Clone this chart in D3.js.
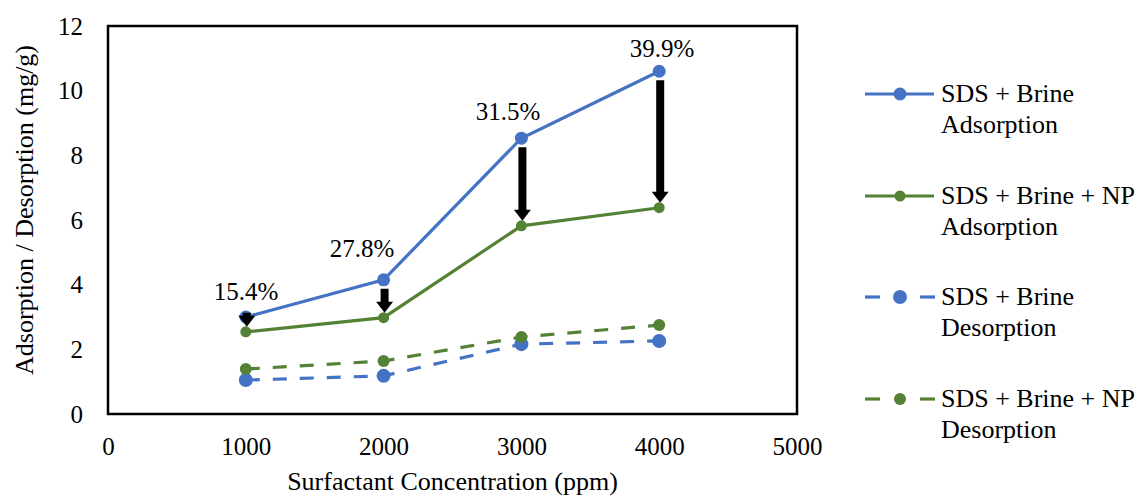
<!DOCTYPE html>
<html><head><meta charset="utf-8">
<script src="https://cdn.jsdelivr.net/npm/d3@7"></script>
<style>body{margin:0;background:#fff}svg{display:block}svg text{font-family:"Times New Roman","Liberation Serif",Times,serif;fill:#000}</style>
</head><body><svg id="c" width="1142" height="497"></svg>
<script>
const concentrations = [1000, 2000, 3000, 4000];
const sdsBrineAds = [3.0, 4.15, 8.53, 10.6];
const sdsBrineNpAds = [2.54, 2.98, 5.82, 6.38];
const sdsBrineDes = [1.05, 1.18, 2.16, 2.26];
const sdsBrineNpDes = [1.39, 1.64, 2.38, 2.75];
const reductionLabels = ["15.4%", "27.8%", "31.5%", "39.9%"];
const xTicks = [0, 1000, 2000, 3000, 4000, 5000];
const yTicks = [0, 2, 4, 6, 8, 10, 12];
const seriesNames = [["SDS + Brine", "Adsorption"], ["SDS + Brine + NP", "Adsorption"], ["SDS + Brine", "Desorption"], ["SDS + Brine + NP", "Desorption"]];

const blue = "#4472C4", green = "#548235";
const series = [
  {vals: sdsBrineAds, color: blue, dash: null, r: 6.5},
  {vals: sdsBrineNpAds, color: green, dash: null, r: 5.5},
  {vals: sdsBrineDes, color: blue, dash: "14,13", r: 7},
  {vals: sdsBrineNpDes, color: green, dash: "14,13", r: 6}
];
const FONT = "'Times New Roman','Liberation Serif',serif";

const svg = d3.select("#c");
const L = 108, R = 797, T = 26, B = 414;
const x = d3.scaleLinear().domain([0, 5000]).range([L, R]);
const y = d3.scaleLinear().domain([0, 12]).range([B, T]);

// frame
svg.append("rect").attr("x",L).attr("y",T).attr("width",R-L).attr("height",B-T).attr("fill","none").attr("stroke","#000").attr("stroke-width",2.5);

const yAxis = d3.axisLeft(y).tickValues(yTicks).tickSize(0).tickPadding(25);
const gy = svg.append("g").attr("transform",`translate(${L},0)`).call(yAxis).attr("font-family",FONT).attr("font-size",25);
gy.select(".domain").remove();
const xAxis = d3.axisBottom(x).tickValues(xTicks).tickSize(0).tickPadding(23).tickFormat(d3.format("d"));
const gx = svg.append("g").attr("transform",`translate(0,${B})`).call(xAxis).attr("font-family",FONT).attr("font-size",25);
gx.select(".domain").remove();

svg.append("text").attr("x",(L+R)/2).attr("y",490).attr("text-anchor","middle").style("font-size","26px").text("Surfactant Concentration (ppm)");
svg.append("text").attr("transform",`translate(33,210) rotate(-90)`).attr("text-anchor","middle").style("font-size","26px").text("Adsorption / Desorption (mg/g)");

const line = d3.line().x((d,i)=>x(concentrations[i])).y(d=>y(d));
series.forEach(s=>{
  svg.append("path").attr("d",line(s.vals)).attr("fill","none").attr("stroke",s.color).attr("stroke-width",3.2)
    .attr("stroke-dasharray",s.dash);
});
series.forEach(s=>{
  svg.selectAll(null).data(s.vals).enter().append("circle")
    .attr("cx",(d,i)=>x(concentrations[i])).attr("cy",d=>y(d)).attr("r",s.r).attr("fill",s.color);
});

// arrows
concentrations.forEach((c,i)=>{
  const cx = x(c) + 1;
  const tip = y(sdsBrineNpAds[i]) - 5;
  const start = Math.min(y(sdsBrineAds[i]) + 9, tip - 14);
  const hl = 11, sw = 4, hw = 8.5;
  const p = `M${cx-sw},${start}L${cx+sw},${start}L${cx+sw},${tip-hl}L${cx+hw},${tip-hl}L${cx},${tip}L${cx-hw},${tip-hl}L${cx-sw},${tip-hl}Z`;
  svg.append("path").attr("d",p).attr("fill","#000");
});

// labels
const labelPos = [[246,300],[362,257],[508,120],[662,57]];
reductionLabels.forEach((t,i)=>{
  svg.append("text").attr("x",labelPos[i][0]).attr("y",labelPos[i][1]).attr("text-anchor","middle").style("font-size","25px").text(t);
});

// legend
const legY = [94, 196, 297, 399];
series.forEach((s,i)=>{
  const g = svg.append("g");
  if(!s.dash){
    g.append("line").attr("x1",865).attr("x2",934).attr("y1",legY[i]).attr("y2",legY[i]).attr("stroke",s.color).attr("stroke-width",3.2);
  } else {
    g.append("line").attr("x1",865).attr("x2",880).attr("y1",legY[i]).attr("y2",legY[i]).attr("stroke",s.color).attr("stroke-width",3.2);
    g.append("line").attr("x1",920).attr("x2",935).attr("y1",legY[i]).attr("y2",legY[i]).attr("stroke",s.color).attr("stroke-width",3.2);
  }
  g.append("circle").attr("cx",900).attr("cy",legY[i]).attr("r",s.r).attr("fill",s.color);
  g.append("text").attr("x",941).attr("y",legY[i]+8).style("font-size","26px").text(seriesNames[i][0]);
  g.append("text").attr("x",941).attr("y",legY[i]+39).style("font-size","26px").text(seriesNames[i][1]);
});
</script></body></html>
